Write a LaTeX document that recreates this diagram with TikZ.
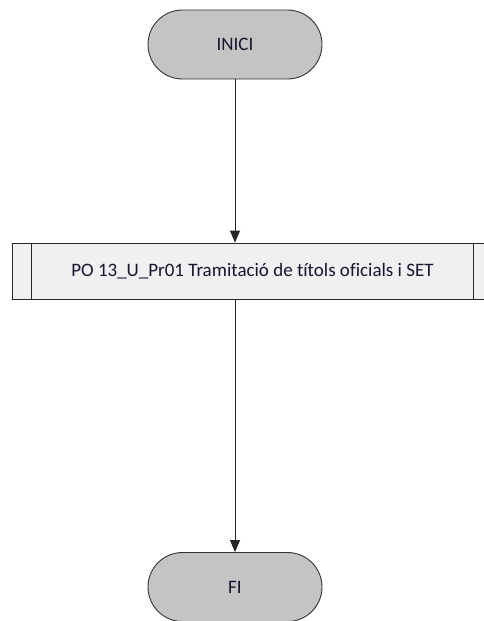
\documentclass[tikz,border=0pt]{standalone}
\usepackage{fontspec}
\setmainfont{Carlito}[Ligatures=NoCommon]
\usetikzlibrary{shapes.misc,arrows.meta}
\definecolor{termfill}{HTML}{C4C4C4}
\definecolor{procfill}{HTML}{F0F0F0}
\definecolor{txt}{HTML}{1A1430}
\tikzset{
  terminal/.style={rounded rectangle, draw=black!80, line width=0.9pt, fill=termfill,
    minimum width=174pt, minimum height=69pt, inner sep=0pt, font=\fontsize{19}{22}\selectfont, text=txt},
  procbox/.style={rectangle, draw=black!85, line width=0.9pt, fill=procfill,
    minimum width=481pt, minimum height=56pt, inner sep=0pt, font=\fontsize{19}{22}\selectfont, text=txt},
  flow/.style={draw=black!85, line width=0.9pt, -{Triangle[length=12pt,width=10pt]}}
}
\begin{document}
\begin{tikzpicture}[x=1pt,y=-1pt]
\useasboundingbox (0,0) rectangle (484,621);
\node[terminal] (inici) at (235,44.5) {INICI};
\node[procbox] (proc) at (252.5,271) {PO 13\_U\_Pr01 Tramitació de títols oficials i SET};
\draw[draw=black!85, line width=0.9pt] ([xshift=20pt]proc.north west) -- ([xshift=20pt]proc.south west);
\draw[draw=black!85, line width=0.9pt] ([xshift=-20pt]proc.north east) -- ([xshift=-20pt]proc.south east);
\node[terminal] (fi) at (235,587) {FI};
\draw[flow] (inici.south) -- (inici.south |- proc.north);
\draw[flow] (inici.south |- proc.south) -- (fi.north);
\end{tikzpicture}
\end{document}
